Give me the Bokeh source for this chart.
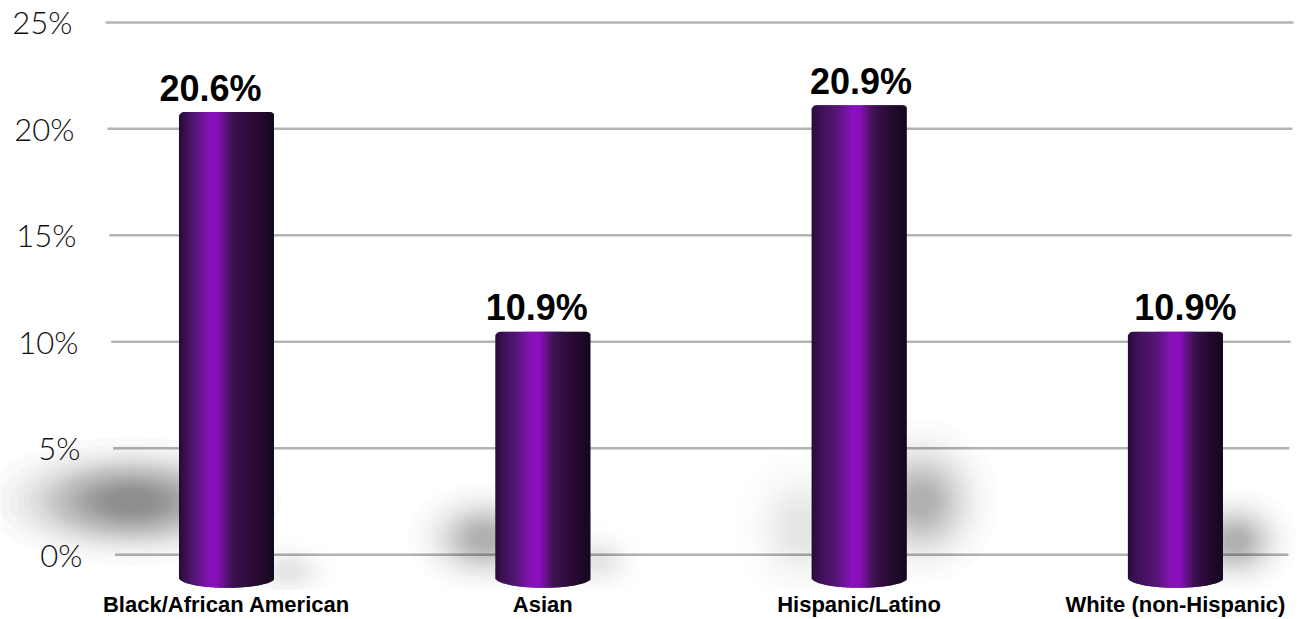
import numpy as np
from bokeh.plotting import figure
from bokeh.models import Range1d, FixedTicker, ColumnDataSource
from bokeh.embed import file_html
from bokeh.resources import INLINE
from bokeh.core.properties import value

# ---------------- data ----------------
categories = ["Black/African American", "Asian", "Hispanic/Latino", "White (non-Hispanic)"]
values = [20.6, 10.9, 20.9, 10.9]
value_labels = ["20.6%", "10.9%", "20.9%", "10.9%"]
y_ticks = [0, 5, 10, 15, 20, 25]
y_tick_labels = ["0%", "5%", "10%", "15%", "20%", "25%"]

# ---------------- style ----------------
PX_X = 316.3          # screen px per x unit
PX_Y = 21.4           # screen px per percent (grid scale)
PX_B = 22.78          # screen px per bar unit (perspective bar scale)
BAR_W_PX = 95
TOP_OFF = 4
CORNER_R = 5
BOT_H = 10
BOT_LIFT = 5
N_STRIPS = 95
label_dx = [-16, -6, 2, 10]
highlight = [0.36, 0.42, 0.46, 0.50]
# shadow specs per bar: (dx px, dy px from base, sigma x px, sigma y px, strength)
shadows = [
    [(-95, -82, 58, 25, 0.40), (62, -12, 20, 13, 0.10)],
    [(-58, -45, 30, 22, 0.26), (56, -22, 18, 15, 0.10)],
    [(-58, -55, 26, 32, 0.13), (62, -82, 30, 32, 0.30)],
    [(60, -42, 24, 21, 0.26)],
]

W, H = 1309, 619
p = figure(width=W, height=H,
           x_range=Range1d(-0.7145, 3.424), y_range=Range1d(-1.682, 26.028),
           output_backend="svg", toolbar_location=None,
           min_border_left=0, min_border_right=0, min_border_top=0, min_border_bottom=26)
p.extra_y_ranges = {"bar": Range1d(-0.338, 25.694)}
p.outline_line_color = None
p.background_fill_color = "white"
p.border_fill_color = "white"
p.xgrid.grid_line_color = None
p.ygrid.grid_line_color = None
p.yaxis.visible = False

xa = p.xaxis[0]
xa.ticker = FixedTicker(ticks=list(range(len(categories))))
xa.major_label_overrides = {i: c for i, c in enumerate(categories)}
xa.axis_line_color = None
xa.major_tick_line_color = None
xa.minor_tick_line_color = None
xa.major_tick_out = 0
xa.major_tick_in = 0
xa.major_label_standoff = 1
xa.major_label_text_font = "Liberation Sans"
xa.major_label_text_font_style = "bold"
xa.major_label_text_font_size = "22px"
xa.major_label_text_color = "#000000"

# ---------------- gridlines & y labels ----------------
gx0 = [(114.5 - 0.38 * t - 226) / PX_X for t in y_ticks]
gx1 = [(1288 + 0.2 * t - 226) / PX_X for t in y_ticks]
p.segment(x0=gx0, y0=y_ticks, x1=gx1, y1=y_ticks, line_color="#b3b3b3", line_width=2.5)
p.text(x=[(82 - 0.4 * t - 226) / PX_X for t in y_ticks], y=y_ticks, text=y_tick_labels,
       text_font=value("Lato Light"), text_font_size="31px", text_align="right",
       text_baseline="middle", text_color="#111111")

# ---------------- shadows ----------------
sx, sy, sw, sh, sa = [], [], [], [], []
L = 26
for i, specs in enumerate(shadows):
    for (dx, dy, sgx, sgy, st) in specs:
        a = 1 - (1 - st) ** (1.0 / L)
        for k in range(L):
            r = np.sqrt(2 * np.log((L + 2) / (k + 1.0)))
            sx.append(i + dx / PX_X)
            sy.append(-dy / PX_B)
            sw.append(2 * r * sgx / PX_X)
            sh.append(2 * r * sgy / PX_B)
            sa.append(a)
p.ellipse(x="x", y="y", width="w", height="h", fill_color="black", fill_alpha="a",
          line_color=None, y_range_name="bar",
          source=ColumnDataSource(dict(x=sx, y=sy, w=sw, h=sh, a=sa)))

# ---------------- cylinders ----------------
def shade(u, hl):
    stops = [(0.0, (0x24, 0x0a, 0x34)), (0.06, (0x3a, 0x10, 0x50)),
             (hl - 0.18, (0x58, 0x17, 0x7c)), (hl - 0.05, (0x88, 0x12, 0xb8)),
             (hl + 0.04, (0x8a, 0x10, 0xbc)), (hl + 0.2, (0x3c, 0x12, 0x50)),
             (0.8, (0x2a, 0x0c, 0x36)), (1.0, (0x18, 0x07, 0x20))]
    for (u0, c0), (u1, c1) in zip(stops[:-1], stops[1:]):
        if u0 <= u <= u1:
            f = (u - u0) / (u1 - u0) if u1 > u0 else 0
            c = [int(round(a + (b - a) * f)) for a, b in zip(c0, c1)]
            return "#%02x%02x%02x" % tuple(c)
    return "#%02x%02x%02x" % stops[-1][1]

L_, R_, T_, B_, C_ = [], [], [], [], []
hw = BAR_W_PX / 2 / PX_X
ov = 1.0 / PX_X
for i, v in enumerate(values):
    for j in range(N_STRIPS):
        u0 = j / N_STRIPS
        u1 = (j + 1) / N_STRIPS
        um = (u0 + u1) / 2
        t = 2 * um - 1
        s = np.sqrt(max(0.0, 1 - t * t))
        d = min(um, 1 - um) * BAR_W_PX
        drop = 0.0
        if d < CORNER_R:
            drop = CORNER_R - np.sqrt(max(0.0, CORNER_R ** 2 - (CORNER_R - d) ** 2))
        L_.append(i - hw + u0 * 2 * hw)
        R_.append(i - hw + u1 * 2 * hw + (ov if j < N_STRIPS - 1 else 0))
        T_.append(v + (TOP_OFF - drop) / PX_B)
        B_.append((BOT_LIFT - BOT_H * s) / PX_B)
        C_.append(shade(um, highlight[i]))
p.quad(left="l", right="r", top="t", bottom="b", fill_color="c", line_color=None,
       y_range_name="bar", source=ColumnDataSource(dict(l=L_, r=R_, t=T_, b=B_, c=C_)))

# ---------------- value labels ----------------
p.text(x=[i + label_dx[i] / PX_X for i in range(len(values))],
       y=[v + (TOP_OFF + 24) / PX_B for v in values],
       text=value_labels, y_range_name="bar",
       text_font=value("Liberation Sans"), text_font_style="bold",
       text_font_size="36px", text_align="center", text_baseline="alphabetic",
       text_color="black")

open("out.html", "w").write(file_html(p, INLINE))
